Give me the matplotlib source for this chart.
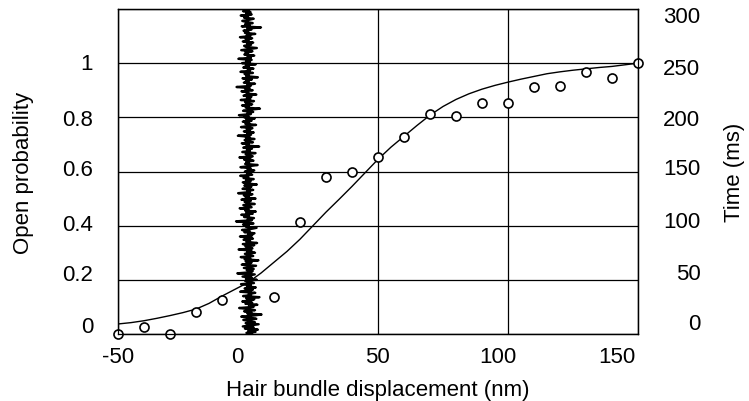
import numpy as np
import matplotlib
matplotlib.use("Agg")
import matplotlib.pyplot as plt
from matplotlib.transforms import ScaledTranslation

plt.rcParams["font.family"] = ["Liberation Sans", "DejaVu Sans"]
plt.rcParams["font.size"] = 16
plt.rcParams["axes.unicode_minus"] = False

# measured open probability points
disp = [-50, -40, -30, -20, -10, 10, 20, 30, 40, 50, 60, 70, 80, 90, 100,
        110, 120, 130, 140, 150]
p_open = [0.0, 0.025, 0.0, 0.08, 0.127, 0.138, 0.415, 0.578, 0.597, 0.652,
          0.726, 0.812, 0.804, 0.853, 0.853, 0.913, 0.915, 0.969, 0.945, 1.0]

# fitted curve
fit_x = [-50, -45, -40, -35, -30, -25, -20, -15, -10, -5, 0, 5, 10, 15, 20,
         25, 30, 35, 40, 45, 50, 55, 60, 65, 70, 75, 80, 85, 90, 95, 100,
         105, 110, 115, 120, 125, 130, 135, 140, 145, 150]
fit_y = [0.037, 0.042, 0.049, 0.058, 0.068, 0.079, 0.092, 0.113, 0.14, 0.165,
         0.19, 0.225, 0.265, 0.305, 0.35, 0.40, 0.45, 0.497, 0.545, 0.595,
         0.645, 0.69, 0.73, 0.77, 0.808, 0.84, 0.866, 0.887, 0.904, 0.918,
         0.93, 0.941, 0.951, 0.961, 0.968, 0.974, 0.979, 0.984, 0.988, 0.994,
         1.0]

# bundle position trace (nm), one sample per ms from 0 to 300 ms
trace_x = [
    1.5, -0.6, 2.9, 0.1, 3.8, -1.2, 2.2, -2.0, 1.0, 4.1,
    -0.9, 2.6, 0.4, -1.8, 3.2, 0.7, -2.6, 1.9, 5.2, -0.3,
    1.3, -1.5, 2.7, 0.0, -3.4, 2.1, 0.9, 3.6, -1.0, 1.6,
    -2.2, 0.5, 2.4, -0.7, 4.4, -1.9, 1.2, 0.3, 2.8, -3.0,
    0.8, 1.9, -1.3, 3.0, -0.4, 1.1, -2.7, 2.3, 0.6, -1.1,
    3.4, -0.8, 1.5, -2.1, 0.2, 2.6, -4.1, 1.0, 1.8, -0.5,
    2.2, -1.6, 0.7, 3.1, -2.4, 0.4, 1.4, -0.9, 4.0, -1.3,
    0.9, -2.8, 2.0, 0.1, -1.2, 2.7, -0.3, 1.3, -3.6, 1.7,
    0.5, -1.0, 2.4, -2.0, 3.5, -0.6, 0.8, -1.7, 1.9, -0.2,
    -3.1, 1.6, 0.0, 2.5, -1.4, 0.6, -2.3, 1.2, 3.3, -0.8,
    0.3, -1.9, 2.1, -0.4, -4.6, 1.5, -0.1, 2.3, -1.5, 0.4,
    -2.6, 1.8, -0.7, 3.0, -1.1, 0.2, -3.2, 1.4, 0.6, -1.8,
    2.6, -0.5, -1.3, 1.1, -2.5, 2.9, -0.9, 0.3, -1.6, 1.7,
    -3.8, 0.8, -0.3, 2.0, -2.1, 0.5, 1.3, -1.4, 3.4, -0.6,
    -2.0, 1.0, -0.8, 2.2, -1.7, 0.1, -3.0, 1.6, -0.4, 0.9,
    -1.2, 2.4, -0.2, 1.0, -2.9, 0.6, 3.7, -1.1, 0.4, -0.7,
    2.1, -1.5, 0.9, -3.3, 1.8, 0.2, -0.9, 2.9, -2.2, 0.7,
    -0.4, 1.5, -1.8, 4.3, -0.6, 0.3, -2.4, 1.9, -0.1, -1.3,
    2.5, -0.8, 0.6, -3.9, 1.2, -0.3, 2.2, -1.6, 0.8, -0.5,
    1.7, -2.7, 0.0, 3.1, -1.0, 0.5, -2.0, 1.4, -0.7, 2.6,
    -1.4, 0.2, -3.5, 1.1, -0.2, 2.0, -1.9, 0.7, 4.6, -0.9,
    0.4, -2.3, 1.6, -0.6, -1.1, 2.3, -2.8, 0.9, -0.4, 1.3,
    -1.7, 3.2, -0.5, 0.1, -2.5, 1.8, -1.0, 0.6, -4.4, 1.0,
    -0.3, 2.7, -1.6, 0.3, -0.8, 1.5, -2.1, 3.8, -0.7, 0.2,
    -1.3, 1.9, -2.9, 0.8, -0.1, 2.1, -1.8, 0.4, -0.9, 3.0,
    -2.3, 0.7, -0.6, 1.4, -3.7, 1.1, -0.2, 2.4, -1.4, 0.0,
    -1.0, 1.7, -2.6, 0.5, 3.4, -0.8, -1.5, 1.2, -0.4, 2.0,
    -2.0, 0.3, -0.9, 1.6, -3.1, 0.9, -0.5, 2.8, -1.2, 0.1,
    -1.7, 1.3, -0.3, 5.0, -2.4, 0.6, -1.1, 1.8, -0.6, -2.2,
    0.4, 2.2, -1.5, 0.0, -2.8, 1.4, -0.7, 1.0, -1.9, 0.5,
    -0.8,
]
trace_t = np.linspace(0, 300, len(trace_x))

x_ticks = [-50, 0, 50, 100, 150]
p_ticks = [0, 0.2, 0.4, 0.6, 0.8, 1.0]
p_labels = ["0", "0.2", "0.4", "0.6", "0.8", "1"]
t_ticks = [0, 50, 100, 150, 200, 250, 300]

fig = plt.figure(figsize=(7.49, 4.02), dpi=100)
ax = fig.add_axes([118 / 749, 67 / 402, 520 / 749, 325 / 402])
ax2 = ax.twinx()

ax.set_xlim(-50, 150)
ax.set_ylim(0, 1.2)
ax.set_xticks(x_ticks)
ax.set_yticks(p_ticks + [1.2])
ax.set_yticklabels(p_labels + [""])
ax.grid(True, color="black", lw=0.9)
ax.set_axisbelow(True)
ax.tick_params(length=0)
ax.tick_params(axis="y", pad=18)
ax.tick_params(axis="x", pad=9)

ax.plot(fit_x, fit_y, color="black", lw=1.0, zorder=3)
ax.plot(disp, p_open, "o", ms=6.5, mfc="white", mec="black", mew=1.2,
        zorder=4, clip_on=False)

ax2.plot(trace_x, trace_t, color="black", lw=1.7)
ax2.set_ylim(0, 300)
ax2.set_yticks(t_ticks)
ax2.tick_params(length=0, pad=45)
for lab in ax2.get_yticklabels():
    lab.set_horizontalalignment("right")

# the original's tick labels drift a few pixels off their gridlines
def nudge(labels, shifts, vertical=True):
    for lab, d in zip(labels, shifts):
        dx, dy = (0, d) if vertical else (d, 0)
        off = ScaledTranslation(dx / 100, dy / 100, fig.dpi_scale_trans)
        lab.set_transform(lab.get_transform() + off)

nudge(ax.get_yticklabels(), [10, 8, 4, 4, 0, 2, 0])
nudge(ax2.get_yticklabels(), [13, 9, 7, 5, 0, -3, -5])
nudge(ax.get_xticklabels(), [0, -11, -1, -10, -21], vertical=False)

for a in (ax, ax2):
    for s in a.spines.values():
        s.set_color("black")
        s.set_linewidth(0.9)

ax.set_xlabel("Hair bundle displacement (nm)", labelpad=8)
ax.set_ylabel("Open probability", labelpad=20)
ax2.set_ylabel("Time (ms)", labelpad=17)

fig.savefig("out.png", dpi=100)
